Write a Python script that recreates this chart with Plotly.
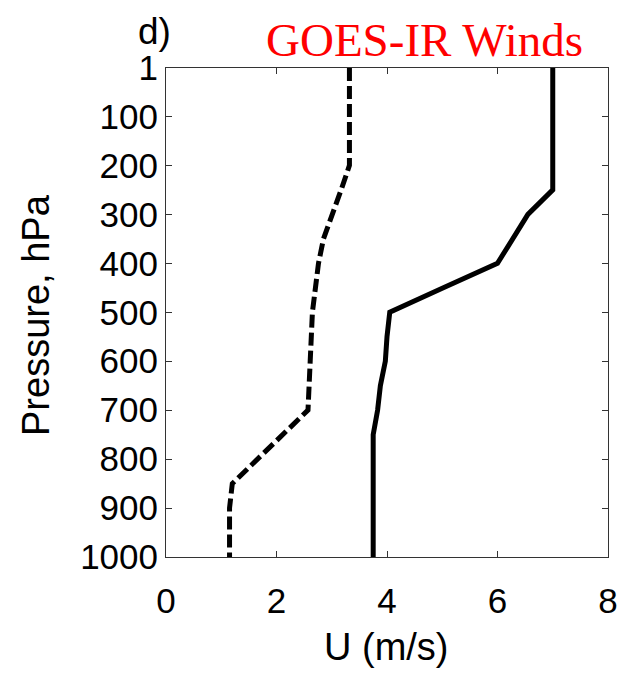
import plotly.graph_objects as go

# Zonal wind profiles (U, m/s) versus pressure level (hPa)
solid_p = [1, 250, 300, 350, 400, 450, 500, 550, 600, 650, 700, 750, 800, 900, 1000]
solid_u = [7.0, 7.0, 6.55, 6.28, 6.0, 5.02, 4.05, 4.0, 3.97, 3.88, 3.83, 3.75, 3.75, 3.75, 3.75]

dashed_p = [1, 200, 250, 300, 350, 400, 450, 500, 600, 700, 850, 900, 1000]
dashed_u = [3.32, 3.32, 3.17, 3.0, 2.85, 2.76, 2.71, 2.65, 2.61, 2.57, 1.2, 1.15, 1.15]

x_ticks = [0, 2, 4, 6, 8]
p_ticks = [1, 100, 200, 300, 400, 500, 600, 700, 800, 900, 1000]

W, H = 619, 674
L, R, T, B = 166, 11, 68, 117
pw, ph = W - L - R, H - T - B


def px(x):
    return (x - L) / pw


def py(y):
    return (H - B - y) / ph


fig = go.Figure()
fig.add_trace(go.Scatter(x=dashed_u, y=dashed_p, mode="lines",
                         line=dict(color="black", width=5, dash="13px,5px"),
                         showlegend=False))
fig.add_trace(go.Scatter(x=solid_u, y=solid_p, mode="lines",
                         line=dict(color="black", width=5),
                         showlegend=False))

font_sans = "Liberation Sans, Arial, sans-serif"
axis_common = dict(
    showgrid=False, zeroline=False, automargin=False,
    showline=True, linecolor="#333333", linewidth=1, mirror="ticks",
    ticks="inside", ticklen=6, tickcolor="#333333", tickwidth=1,
    tickfont=dict(family=font_sans, size=35, color="black"),
)

fig.update_xaxes(range=[0, 8], tickvals=x_ticks, ticktext=[str(v) for v in x_ticks],
                 ticklabelstandoff=13, **axis_common)
fig.update_yaxes(range=[1000, 1], tickvals=p_ticks, ticktext=[str(v) for v in p_ticks],
                 **axis_common)

annotations = [
    dict(text="U (m/s)", x=px(386), y=py(647), xref="paper", yref="paper",
         showarrow=False, font=dict(family=font_sans, size=38, color="black"),
         xanchor="center", yanchor="middle"),
    dict(text="Pressure, hPa", x=px(36), y=py(315), xref="paper", yref="paper",
         showarrow=False, textangle=-90,
         font=dict(family=font_sans, size=38, color="black"),
         xanchor="center", yanchor="middle"),
    dict(text="d)", x=px(136), y=py(32), xref="paper", yref="paper",
         showarrow=False, font=dict(family=font_sans, size=37, color="black"),
         xanchor="left", yanchor="middle"),
    dict(text="GOES-IR Winds", x=px(424), y=py(40), xref="paper", yref="paper",
         showarrow=False,
         font=dict(family="Liberation Serif, Times New Roman, serif", size=47, color="red"),
         xanchor="center", yanchor="middle"),
]

fig.update_layout(
    width=W, height=H,
    margin=dict(l=L, r=R, t=T, b=B, pad=0, autoexpand=False),
    paper_bgcolor="white", plot_bgcolor="white",
    annotations=annotations,
)

fig.write_html("out.html")
